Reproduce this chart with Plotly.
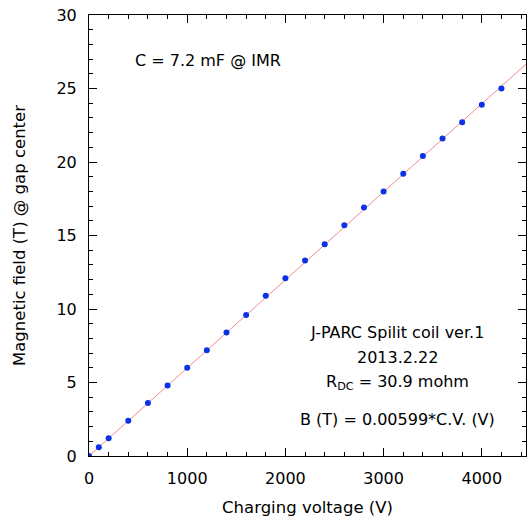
import plotly.graph_objects as go

voltage = [0, 100, 200, 400, 600, 800, 1000, 1200, 1400, 1600, 1800, 2000,
           2200, 2400, 2600, 2800, 3000, 3200, 3400, 3600, 3800, 4000, 4200]
field = [0.0, 0.6, 1.2, 2.4, 3.6, 4.8, 6.0, 7.2, 8.4, 9.6, 10.9, 12.1,
         13.3, 14.4, 15.7, 16.9, 18.0, 19.2, 20.4, 21.6, 22.7, 23.9, 25.0]
slope = 0.00599
fit_x = [0, 4450]
fit_y = [slope * v for v in fit_x]

FONT = "DejaVu Sans"

fig = go.Figure()
fig.add_trace(go.Scatter(x=fit_x, y=fit_y, mode="lines",
                         line=dict(color="#f08c8c", width=1), showlegend=False))
fig.add_trace(go.Scatter(x=voltage, y=field, mode="markers",
                         marker=dict(color="#0a32e6", size=6), showlegend=False))

axis_common = dict(
    showgrid=False, zeroline=False, showline=True, linecolor="black", linewidth=1,
    mirror="ticks", ticks="inside", ticklen=8, tickwidth=1, tickcolor="black",
    tickfont=dict(family=FONT, size=16, color="black"), automargin=False,
)

fig.update_xaxes(range=[0, 4450], tickvals=[0, 1000, 2000, 3000, 4000],
                 minor=dict(dtick=200, tick0=0, ticks="inside", ticklen=4, tickcolor="black"),
                 title=dict(text="Charging voltage (V)", font=dict(family=FONT, size=16.5, color="black"), standoff=14),
                 ticklabelstandoff=8, **axis_common)
fig.update_yaxes(range=[0, 30], dtick=5,
                 minor=dict(dtick=1, ticks="inside", ticklen=4, tickcolor="black"),
                 title=dict(text="Magnetic field (T) @ gap center", font=dict(family=FONT, size=16.5, color="black"), standoff=26),
                 ticklabelstandoff=8, **axis_common)

ann_font = dict(family=FONT, size=16, color="black")
fig.add_annotation(x=450, y=26.9, xref="x", yref="y", text="C = 7.2 mF @ IMR",
                   showarrow=False, xanchor="left", font=ann_font)
lines = [("J-PARC Spilit coil ver.1", 8.37), ("2013.2.22", 6.67),
         ("R<sub>DC</sub> = 30.9 mohm", 5.0), ("B (T) = 0.00599*C.V. (V)", 2.5)]
for txt, yy in lines:
    fig.add_annotation(x=3140, y=yy, xref="x", yref="y", text=txt,
                       showarrow=False, xanchor="center", font=ann_font)

fig.update_layout(width=528, height=520, plot_bgcolor="white", paper_bgcolor="white",
                  margin=dict(l=89, r=2, t=15, b=64))
fig.write_html("out.html", config={"displayModeBar": False},
               post_script="document.body.style.margin='0';")
